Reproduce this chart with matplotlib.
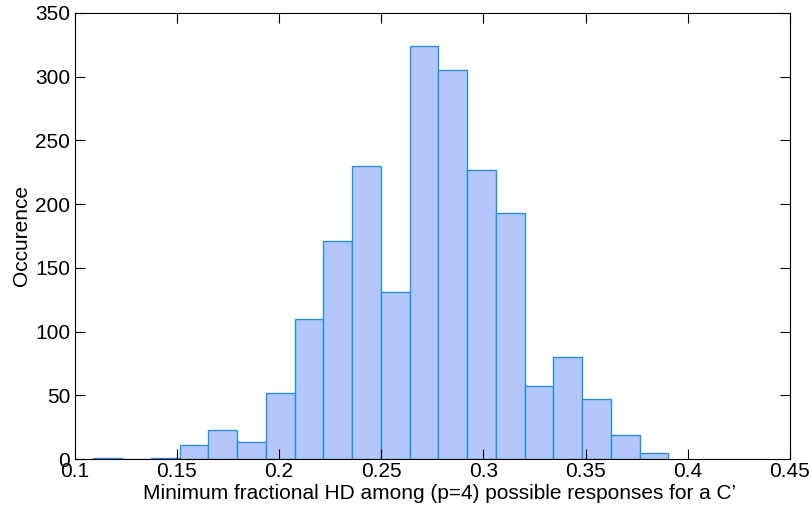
import matplotlib
matplotlib.use("Agg")
import matplotlib.pyplot as plt
import numpy as np

bin_start = 0.1092
bin_width = 0.014065
counts = [1, 0, 1, 11, 23, 13, 52, 110, 171, 230, 131, 324, 305, 227, 193, 57, 80, 47, 19, 5]
xticks = [0.1, 0.15, 0.2, 0.25, 0.3, 0.35, 0.4, 0.45]
xticklabels = ["0.1", "0.15", "0.2", "0.25", "0.3", "0.35", "0.4", "0.45"]
yticks = [0, 50, 100, 150, 200, 250, 300, 350]

plt.rcParams['font.family'] = ['Liberation Sans', 'DejaVu Sans']

fig = plt.figure(figsize=(8.11, 5.09), dpi=100)
ax = fig.add_axes([0.0919, 0.0982, 0.974 - 0.0919, 0.9745 - 0.0982])

lefts = [bin_start + i * bin_width for i in range(len(counts))]
ax.bar(lefts, counts, width=bin_width, align='edge', color='#b3c7fd',
       edgecolor='#2b8fd6', linewidth=1.0)

ax.set_xlim(0.1, 0.45)
ax.set_ylim(0, 350)
ax.set_xticks(xticks)
ax.set_xticklabels(xticklabels)
ax.set_yticks(yticks)
ax.tick_params(direction='in', top=True, right=True, labelsize=15, length=7, width=0.8)
ax.tick_params(axis='x', pad=2)
ax.tick_params(axis='y', pad=3)
for s in ax.spines.values():
    s.set_linewidth(0.8)
ax.set_xlabel("Minimum fractional HD among (p=4) possible responses for a C\u2019", fontsize=15, labelpad=0)
ax.xaxis.set_label_coords(0.51, -0.055, transform=ax.transAxes)
ax.xaxis.label.set_va('top')
ax.set_ylabel("Occurence", fontsize=15, labelpad=3)

fig.savefig("out.png", dpi=100)
